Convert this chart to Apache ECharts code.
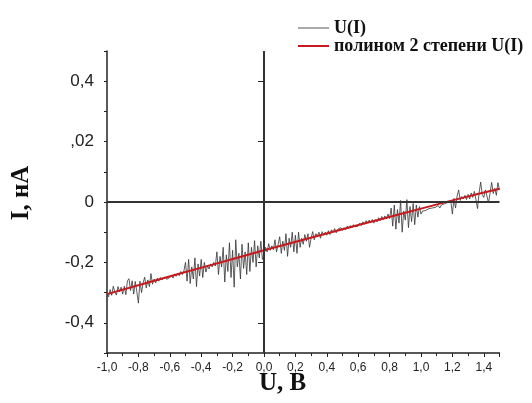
<!DOCTYPE html>
<html><head><meta charset="utf-8">
<script src="https://cdn.jsdelivr.net/npm/echarts@6/dist/echarts.min.js"></script>
<style>html,body{margin:0;padding:0;background:#fff}#c{width:532px;height:403px}</style>
</head><body><div id="c"></div>
<script>
// measured current I (нА) at U = -1.00 .. 1.50 step 0.01
const uStart = -1.0;
const uStep = 0.01;
const currentI = [
 -0.300,-0.314,-0.290,-0.309,-0.279,-0.298,-0.308,-0.280,-0.298,-0.282,
 -0.305,-0.279,-0.307,-0.261,-0.254,-0.293,-0.261,-0.305,-0.263,-0.297,
 -0.335,-0.262,-0.300,-0.268,-0.249,-0.285,-0.258,-0.280,-0.237,-0.272,
 -0.255,-0.268,-0.252,-0.262,-0.250,-0.258,-0.262,-0.248,-0.256,-0.252,
 -0.250,-0.242,-0.252,-0.238,-0.246,-0.236,-0.244,-0.230,-0.240,-0.228,
 -0.200,-0.262,-0.190,-0.270,-0.215,-0.255,-0.185,-0.280,-0.205,-0.245,
 -0.190,-0.250,-0.200,-0.232,-0.212,-0.222,-0.205,-0.215,-0.200,-0.212,
 -0.165,-0.240,-0.180,-0.215,-0.150,-0.265,-0.175,-0.230,-0.135,-0.250,
 -0.160,-0.282,-0.125,-0.215,-0.170,-0.255,-0.140,-0.220,-0.165,-0.240,
 -0.135,-0.230,-0.150,-0.200,-0.128,-0.215,-0.145,-0.185,-0.130,-0.190,
 -0.175,-0.150,-0.165,-0.138,-0.160,-0.145,-0.158,-0.125,-0.165,-0.140,
 -0.115,-0.170,-0.130,-0.160,-0.105,-0.180,-0.120,-0.150,-0.100,-0.165,
 -0.110,-0.170,-0.100,-0.150,-0.120,-0.140,-0.108,-0.130,-0.105,-0.150,
 -0.120,-0.098,-0.125,-0.105,-0.112,-0.100,-0.120,-0.098,-0.110,-0.100,
 -0.110,-0.095,-0.108,-0.092,-0.100,-0.088,-0.102,-0.090,-0.096,-0.085,
 -0.094,-0.085,-0.092,-0.080,-0.088,-0.078,-0.086,-0.075,-0.082,-0.078,
 -0.080,-0.070,-0.078,-0.066,-0.074,-0.062,-0.070,-0.060,-0.068,-0.058,
 -0.070,-0.058,-0.066,-0.052,-0.062,-0.048,-0.058,-0.046,-0.056,-0.040,
 -0.055,-0.020,-0.080,-0.010,-0.090,-0.025,-0.070, 0.005,-0.100,-0.030,
 -0.060, 0.008,-0.085,-0.015,-0.065,-0.005,-0.075,-0.010,-0.050,-0.015,
 -0.040,-0.030,-0.036,-0.028,-0.030,-0.022,-0.026,-0.020,-0.024,-0.018,
 -0.018,-0.012,-0.020,-0.010,-0.014,-0.006,-0.012,-0.002,-0.004, 0.002,
 -0.040, 0.012,-0.020, 0.020, 0.040, 0.005, 0.018, 0.010, 0.022, 0.008,
  0.025, 0.010, 0.030, 0.015, 0.035, 0.008,-0.022, 0.030, 0.066, 0.025,
  0.015, 0.040, 0.020,-0.003, 0.030, 0.065, 0.028, 0.045, 0.022, 0.064, 0.040
];
// 2nd-degree polynomial fit
const fitU = [-1.0,-0.75,-0.5,-0.25,0.0,0.25,0.5,0.75,1.0,1.25,1.5];
const fitI = [-0.305,-0.268,-0.232,-0.196,-0.160,-0.125,-0.090,-0.056,-0.022,0.012,0.044];

const yTickValues = [-0.4,-0.2,0,0.2,0.4];
const yTickLabels = ['-0,4','-0,2','0',',02','0,4'];
const seriesNames = ['U(I)','полином 2 степени U(I)'];
const axisNames = ['U, В','I, нА'];
const zeroLines = [0, 0];

const measured = currentI.map((v,i)=>[+(uStart + i*uStep).toFixed(2), v]);
const fit = fitU.map((u,i)=>[u, fitI[i]]);

const dark = '#222';
const chart = echarts.init(document.getElementById('c'), null, {renderer:'canvas'});
chart.setOption({
  animation:false,
  backgroundColor:'#fff',
  grid:{left:107, right:32.5, top:51, bottom:50, containLabel:false},
  legend:{
    type:'plain', orient:'vertical', left:293, top:14, itemWidth:31, itemHeight:2, itemGap:0,
    icon:'rect',
    textStyle:{fontFamily:'"Liberation Serif", serif', fontWeight:'bold', fontSize:18, lineHeight:15, color:'#111'},
    data:[
      {name:seriesNames[0], itemStyle:{color:'#aaa'}},
      {name:seriesNames[1], itemStyle:{color:'#c8191e'}}
    ]
  },
  xAxis:{
    type:'value', min:-1, max:1.5, interval:0.2,
    axisLine:{show:true, onZero:false, lineStyle:{color:dark, width:1.5}},
    axisTick:{show:true, length:4, lineStyle:{color:dark, width:1}},
    minorTick:{show:true, splitNumber:2, length:3, lineStyle:{color:dark, width:1}},
    axisLabel:{fontFamily:'"Liberation Sans", Arial, sans-serif', fontSize:12, color:'#222', margin:9, showMaxLabel:false,
      formatter:v=>v.toFixed(1).replace('.',',')},
    splitLine:{show:false}
  },
  yAxis:[
    {type:'value', min:-0.5, max:0.5, interval:0.1,
     axisLine:{show:true, onZero:false, lineStyle:{color:dark, width:1.5}},
     axisTick:{show:true, length:3, lineStyle:{color:dark, width:1}},
     axisLabel:{show:false}, splitLine:{show:false}},
    {type:'value', min:-0.5, max:0.5, position:'left', offset:0,
     axisLine:{show:false},
     axisTick:{show:true, length:6, customValues:yTickValues, lineStyle:{color:dark, width:1}},
     axisLabel:{customValues:yTickValues, margin:13, fontFamily:'"Liberation Sans", Arial, sans-serif', fontSize:17, color:'#222',
       formatter:v=>{const k=yTickValues.findIndex(t=>Math.abs(t-v)<1e-6); return k>=0?yTickLabels[k]:'';}},
     splitLine:{show:false}}
  ],
  graphic:[
    {type:'text', left:259, top:371, style:{text:axisNames[0], font:'bold 25px "Liberation Serif", serif', fill:'#111'}},
    {type:'text', x:22, y:193, rotation:Math.PI/2, style:{text:axisNames[1], font:'bold 25px "Liberation Serif", serif', fill:'#111', align:'center', verticalAlign:'middle'}}
  ],
  series:[
    {name:seriesNames[0], type:'line', data:measured, symbol:'none', z:2,
     lineStyle:{color:'#333', width:0.8},
     markLine:{silent:true, symbol:['none','none'], label:{show:false},
       lineStyle:{color:'#333', width:2, type:'solid'},
       data:[{xAxis:zeroLines[0]},{yAxis:zeroLines[1]}]}},
    {name:seriesNames[1], type:'line', data:fit, symbol:'none', smooth:true, z:3,
     lineStyle:{color:'#c8191e', width:2}}
  ]
});
</script>
</body></html>
